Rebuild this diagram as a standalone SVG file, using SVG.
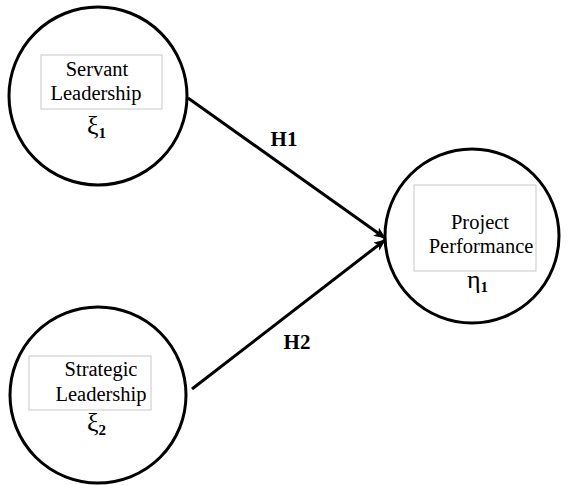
<svg xmlns="http://www.w3.org/2000/svg" width="570" height="485" viewBox="0 0 570 485">
  <defs>
    <marker id="arrow" viewBox="0 0 12 10" refX="11" refY="5" markerWidth="12" markerHeight="10" markerUnits="userSpaceOnUse" orient="auto">
      <path d="M0,0 L12,5 L0,10 L3,5 Z" fill="#000"/>
    </marker>
  </defs>
  <style>
    .node { fill: #fff; stroke: #000; stroke-width: 3; }
    .box { fill: #fff; stroke: #c8c8c8; stroke-width: 1; }
    .lbl { font-family: "Liberation Serif", "Times New Roman", serif; font-size: 20.5px; fill: #000; text-anchor: middle; }
    .sym { font-family: "Liberation Serif", "DejaVu Serif", serif; font-size: 26px; fill: #000; }
    .sub { font-family: "Liberation Serif", serif; font-size: 15px; font-weight: bold; }
    .hyp { font-family: "Liberation Serif", "Times New Roman", serif; font-size: 21px; font-weight: bold; fill: #000; text-anchor: middle; }
    .edge { stroke: #000; stroke-width: 3; fill: none; }
  </style>

  <rect width="570" height="485" fill="#fff"/>

  <g id="connectors">
    <line class="edge" x1="188" y1="98" x2="385" y2="238" marker-end="url(#arrow)"/>
    <line class="edge" x1="192" y1="389" x2="385" y2="240" marker-end="url(#arrow)"/>
    <text class="hyp" x="284" y="146">H1</text>
    <text class="hyp" x="297" y="349">H2</text>
  </g>

  <g id="servant-leadership">
    <circle class="node" cx="98" cy="96" r="89"/>
    <rect class="box" x="41" y="55" width="121" height="54"/>
    <text class="lbl" x="97" y="76">Servant</text>
    <text class="lbl" x="96" y="100">Leadership</text>
    <text class="sym" x="87" y="134">ξ<tspan class="sub" dy="4">1</tspan></text>
  </g>

  <g id="strategic-leadership">
    <circle class="node" cx="98" cy="395" r="88"/>
    <rect class="box" x="29" y="356" width="122" height="54"/>
    <text class="lbl" x="101" y="376">Strategic</text>
    <text class="lbl" x="101" y="401">Leadership</text>
    <text class="sym" x="87" y="431">ξ<tspan class="sub" dy="4">2</tspan></text>
  </g>

  <g id="project-performance">
    <circle class="node" cx="472" cy="236" r="87"/>
    <rect class="box" x="414" y="185" width="122" height="86"/>
    <text class="lbl" x="480" y="229">Project</text>
    <text class="lbl" x="481" y="253">Performance</text>
    <text class="sym" x="467" y="288">η<tspan class="sub" dy="4" font-weight="normal">1</tspan></text>
  </g>
</svg>
